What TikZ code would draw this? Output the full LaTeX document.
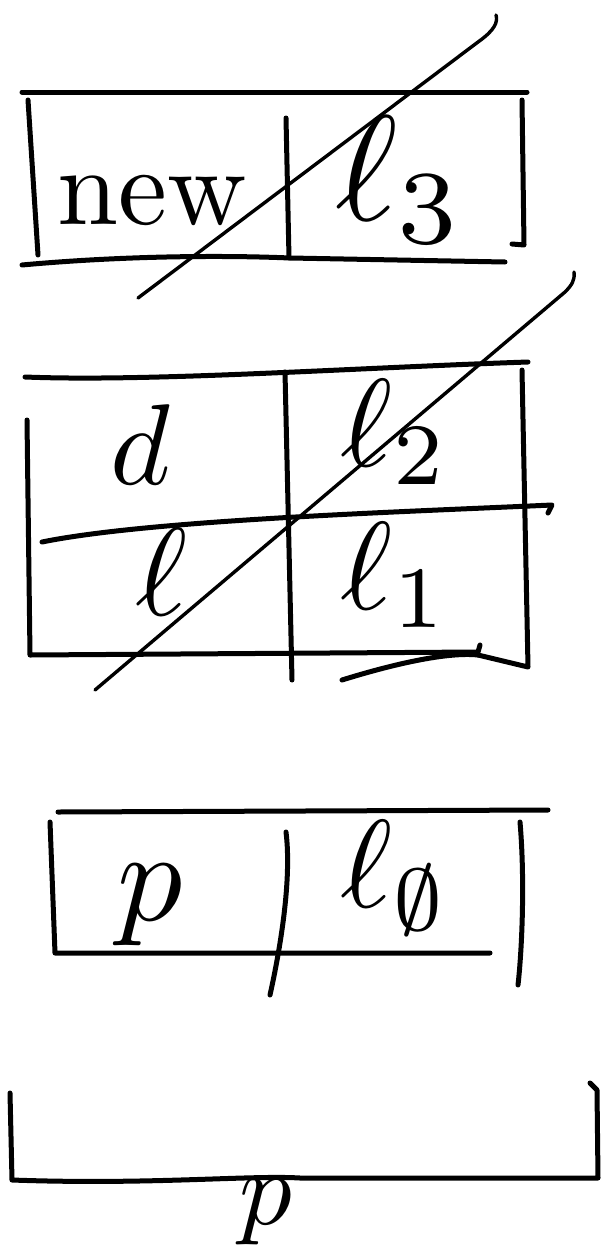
\documentclass[tikz,border=0pt]{standalone}
\usepackage{amssymb}
\begin{document}
\begin{tikzpicture}[x=1pt,y=-1pt,
  stroke/.style={line width=5pt,line cap=round,line join=round},
  slash/.style={line width=3.4pt,line cap=round},
  lbl/.style={inner sep=0pt}]
\useasboundingbox (0,0) rectangle (603,1250);
\fill[white] (0,0) rectangle (603,1250);
% ---- top box: new | l3
\draw[stroke] (22,92) -- (527,92);
\draw[stroke] (28,100) -- (38,255);
\draw[stroke] (22,265) .. controls (120,256) and (220,255) .. (290,258) -- (505,262);
\draw[stroke] (522,100) -- (524,245) -- (512,244);
\draw[stroke] (286,118) -- (289,258);
\node[lbl,scale=11] (new) at (152,200) {new};
\node[lbl,scale=15] (l3) at (400,180) {$\ell_3$};
\draw[slash] (138,298) -- (478,42) .. controls (495,30) and (498,22) .. (496,15);
% ---- second table
\draw[stroke] (25,377) .. controls (150,382) and (350,368) .. (528,362);
\draw[stroke] (27,420) -- (30,655) -- (478,652) -- (480,645);
\draw[stroke] (478,655) -- (528,667) -- (522,370);
\draw[stroke] (42,542) .. controls (150,520) and (400,512) .. (552,505) -- (548,513);
\draw[stroke] (285,372) -- (292,680);
\node[lbl,scale=11.5] (d) at (140,445) {$d$};
\node[lbl,scale=12.5] (l2) at (395,432) {$\ell_2$};
\node[lbl,scale=12.5] (l) at (162,572) {$\ell$};
\node[lbl,scale=12.5] (l1) at (395,575) {$\ell_1$};
\draw[stroke] (342,680) .. controls (400,662) and (450,652) .. (478,655);
\draw[slash] (95,690) -- (565,292) .. controls (572,285) and (575,280) .. (574,272);
% ---- third table: p | l0
\draw[stroke] (58,812) -- (548,810);
\draw[stroke] (50,822) -- (55,953) -- (490,953);
\draw[stroke] (286,832) .. controls (292,880) and (280,950) .. (270,995);
\draw[stroke] (520,822) .. controls (525,880) and (522,950) .. (518,985);
\node[lbl,scale=13] (p) at (150,905) {$p$};
\node[lbl,scale=12.5] (l0) at (395,878) {$\ell_{\emptyset}$};
% ---- bottom bracket
\draw[stroke] (10,1093) -- (12,1180) .. controls (150,1185) and (250,1175) .. (300,1178) -- (598,1178) -- (597,1090) -- (590,1083);
\node[lbl,scale=10.5] (P) at (266,1212) {$p$};
\end{tikzpicture}
\end{document}
